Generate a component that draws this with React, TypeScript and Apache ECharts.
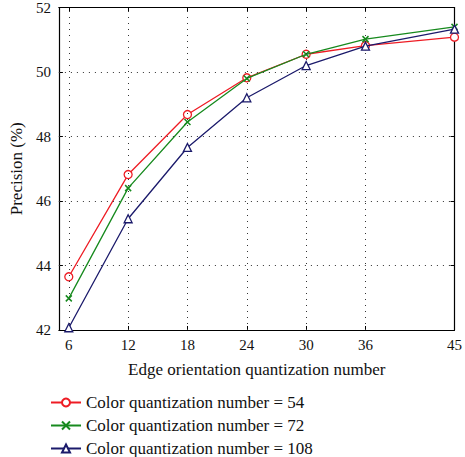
import React, { useEffect, useRef } from "react";
import * as echarts from "echarts";

const xValues = [6, 12, 18, 24, 30, 36, 45];
const xTickValues = [6, 12, 18, 24, 30, 36, 45];
const xGridValues = [6, 12, 18, 24, 30, 36];
const yGridValues = [44, 46, 48, 50];
const seriesNames = [
  "Color quantization number = 54",
  "Color quantization number = 72",
  "Color quantization number = 108",
];
const values54 = [43.65, 46.82, 48.68, 49.82, 50.55, 50.82, 51.08];
const values72 = [42.98, 46.4, 48.45, 49.8, 50.55, 51.02, 51.4];
const values108 = [42.07, 45.45, 47.66, 49.2, 50.2, 50.8, 51.33];

const FONT = "'Liberation Serif', 'DejaVu Serif', serif";

export default function App() {
  const ref = useRef<HTMLDivElement>(null);
  useEffect(() => {
    if (!ref.current) return;
    const chart = echarts.init(ref.current, null, { renderer: "svg" });
    const pair = (vals: number[]) => xValues.map((x, i) => [x, vals[i]]);
    const crossPath = "path://M0,0L10,10M10,0L0,10";
    const axisLineStyle = { color: "#000", width: 1.2 };
    const gridLine = { color: "#333", type: [1, 5] as any, width: 1 };
    chart.setOption({
      animation: false,
      textStyle: { fontFamily: FONT },
      grid: { left: 50, right: 7, top: 5, bottom: 127, containLabel: false },
      legend: {
        orient: "vertical",
        left: 45,
        top: 389,
        height: 75,
        itemGap: 6,
        itemWidth: 30,
        itemHeight: 10,
        textStyle: { fontFamily: FONT, fontSize: 17, color: "#111" },
        data: seriesNames,
      },
      xAxis: [
        {
          type: "value",
          min: 5,
          max: 45,
          name: "Edge orientation quantization number",
          nameLocation: "middle",
          nameGap: 31,
          nameTextStyle: { fontFamily: FONT, fontSize: 17, color: "#111" },
          axisLine: { lineStyle: axisLineStyle },
          axisTick: { inside: true, length: 4, customValues: xTickValues, lineStyle: { color: "#000" } },
          axisLabel: {
            customValues: xTickValues,
            fontFamily: FONT,
            fontSize: 15,
            color: "#111",
            margin: 7,
          },
          splitLine: { show: false },
        },
        {
          type: "value",
          min: 5,
          max: 45,
          position: "top",
          axisLine: { lineStyle: axisLineStyle },
          axisTick: { inside: true, length: 4, customValues: xTickValues, lineStyle: { color: "#000" } },
          axisLabel: { show: false },
          splitLine: { show: false },
        },
      ],
      yAxis: [
        {
          type: "value",
          min: 42,
          max: 52,
          interval: 2,
          name: "Precision (%)",
          nameLocation: "middle",
          nameGap: 32,
          nameTextStyle: { fontFamily: FONT, fontSize: 17, color: "#111" },
          axisLine: { show: true, lineStyle: axisLineStyle },
          axisTick: { show: true, inside: true, length: 4, lineStyle: { color: "#000" } },
          axisLabel: { fontFamily: FONT, fontSize: 15, color: "#111", margin: 8 },
          splitLine: { show: false },
        },
        {
          type: "value",
          min: 42,
          max: 52,
          interval: 2,
          position: "right",
          axisLine: { show: true, lineStyle: axisLineStyle },
          axisTick: { show: true, inside: true, length: 4, lineStyle: { color: "#000" } },
          axisLabel: { show: false },
          splitLine: { show: false },
        },
      ],
      series: [
        {
          type: "line",
          name: "grid",
          data: [],
          silent: true,
          markLine: {
            silent: true,
            symbol: ["none", "none"],
            label: { show: false },
            lineStyle: gridLine,
            data: [
              ...xGridValues.map((v) => ({ xAxis: v })),
              ...yGridValues.map((v) => ({ yAxis: v })),
            ],
          },
        },
        {
          type: "line",
          name: seriesNames[0],
          data: pair(values54),
          symbol: "circle",
          symbolSize: 8,
          lineStyle: { color: "#ee1c24", width: 1.3 },
          itemStyle: { color: "#ffffff", borderColor: "#ee1c24", borderWidth: 1.3 },
          z: 3,
        },
        {
          type: "line",
          name: seriesNames[1],
          data: pair(values72),
          symbol: crossPath,
          symbolSize: 6,
          lineStyle: { color: "#178a1e", width: 1.3 },
          itemStyle: { color: "none", borderColor: "#178a1e", borderWidth: 1.5 },
          z: 4,
        },
        {
          type: "line",
          name: seriesNames[2],
          data: pair(values108),
          symbol: "triangle",
          symbolSize: 8,
          lineStyle: { color: "#1b1a6b", width: 1.3 },
          itemStyle: { color: "#ffffff", borderColor: "#1b1a6b", borderWidth: 1.3 },
          z: 5,
        },
      ],
    });
    return () => chart.dispose();
  }, []);
  return <div ref={ref} style={{ width: 465, height: 457, position: "absolute", left: 0, top: 0 }} />;
}
